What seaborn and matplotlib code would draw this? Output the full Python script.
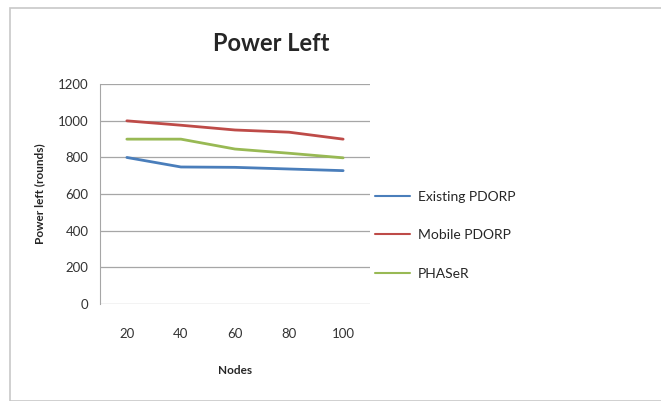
import numpy as np
import pandas as pd
import matplotlib
matplotlib.use("Agg")
import matplotlib.pyplot as plt
import seaborn as sns
from matplotlib.patches import Rectangle

# values
nodes = [20, 40, 60, 80, 100]
existing_pdorp = [800, 748, 746, 737, 728]
mobile_pdorp = [1000, 976, 950, 938, 900]
phaser = [900, 900, 846, 823, 798]
series_names = ["Existing PDORP", "Mobile PDORP", "PHASeR"]
colors = ["#4A7EBB", "#BE4B48", "#98B954"]

df = pd.DataFrame({
    "Nodes": nodes * 3,
    "Power": existing_pdorp + mobile_pdorp + phaser,
    "Series": [s for s in series_names for _ in nodes],
})

sns.set_style("white")
plt.rcParams["font.family"] = ["Lato", "DejaVu Sans"]

fig = plt.figure(figsize=(6.61, 4.01), dpi=100)
ax = fig.add_axes([0.151, 0.242, 0.409, 0.548])

# outer chart border
fig.patches.append(Rectangle((0.015, 0.0), 0.99, 0.98, transform=fig.transFigure,
                             fill=False, edgecolor="#C8C8C8", linewidth=1.2))

sns.lineplot(data=df, x="Nodes", y="Power", hue="Series", palette=colors,
             linewidth=2, ax=ax, legend=False)

ax.set_xlim(10, 110)
ax.set_ylim(0, 1200)
ax.set_xticks(nodes)
ax.set_yticks(range(0, 1201, 200))
ax.yaxis.grid(True, color="#A6A6A6", linewidth=0.9)
for s in ["top", "right", "bottom"]:
    ax.spines[s].set_visible(False)
ax.spines["left"].set_color("#A6A6A6")
ax.tick_params(axis="y", length=5, color="#A6A6A6", labelsize=9.5, labelcolor="#333333", pad=3)
ax.tick_params(axis="x", length=0, labelsize=9.5, labelcolor="#333333", pad=17)
ax.set_xlabel("Nodes", fontsize=8.5, fontweight="bold", labelpad=18)
ax.set_ylabel("Power left (rounds)", fontsize=8.5, fontweight="bold", labelpad=9)

fig.text(0.41, 0.892, "Power Left", ha="center", va="center", fontsize=17, fontweight="bold")

handles = [plt.Line2D([], [], color=c, linewidth=1.5) for c in colors]
fig.legend(handles, series_names, loc="upper left", bbox_to_anchor=(0.559, 0.538),
           frameon=False, fontsize=10, handlelength=2.5, handletextpad=0.6,
           labelspacing=1.9, borderaxespad=0)

fig.savefig("out.png", dpi=100)
